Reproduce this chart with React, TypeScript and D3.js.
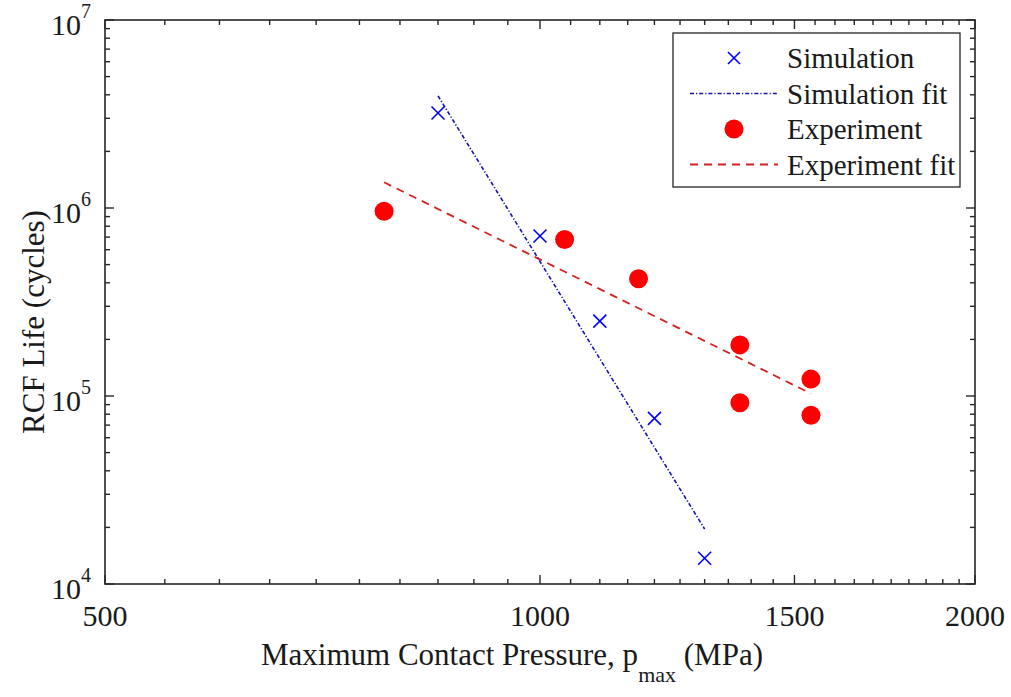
import React from "react";
import * as d3 from "d3";

// Maximum contact pressure (MPa) and rolling contact fatigue life (cycles)
const simPressure = [850, 1000, 1100, 1200, 1300];
const simLife = [3.2e6, 7.1e5, 2.5e5, 7.6e4, 1.37e4];

const expPressure = [780, 1040, 1170, 1375, 1375, 1540, 1540];
const expLife = [9.6e5, 6.8e5, 4.2e5, 1.87e5, 9.2e4, 1.23e5, 7.9e4];

// Power-law fit lines, given by their end points
const simFitPressure = [850, 1300];
const simFitLife = [3.95e6, 1.96e4];
const expFitPressure = [780, 1540];
const expFitLife = [1.37e6, 1.03e5];

const xMajorTicks = [500, 1000, 1500, 2000];
const yMajorExponents = [4, 5, 6, 7];

const legendLabels = ["Simulation", "Simulation fit", "Experiment", "Experiment fit"];

const W = 1011;
const H = 697;
const M = { left: 105, right: 975, top: 20, bottom: 584 };

const FONT = "'Liberation Serif', 'Times New Roman', serif";
const AXIS = "#262626";
const TEXT = "#1a1a1a";
const BLUE = "#0000ff";
const BLUE_LINE = "#1212b4";
const RED = "#ff0000";
const RED_LINE = "#d42020";

export default function App() {
  const x = d3.scaleLog().domain([500, 2000]).range([M.left, M.right]);
  const y = d3.scaleLog().domain([1e4, 1e7]).range([M.bottom, M.top]);

  const xMinor = d3.range(550, 2000, 50).filter((v) => !xMajorTicks.includes(v));
  const yMinor: number[] = [];
  for (let e = 4; e < 7; e++) for (let k = 2; k <= 9; k++) yMinor.push(k * Math.pow(10, e));
  const yMajor = yMajorExponents.map((e) => Math.pow(10, e));

  const line = d3
    .line<[number, number]>()
    .x((d) => x(d[0]))
    .y((d) => y(d[1]));

  const simFit = line(simFitPressure.map((p, i) => [p, simFitLife[i]] as [number, number]));
  const expFit = line(expFitPressure.map((p, i) => [p, expFitLife[i]] as [number, number]));

  const majorLen = 9;
  const minorLen = 5;

  const cross = (cx: number, cy: number, s: number, key: string | number) => (
    <g key={key} stroke={BLUE} strokeWidth={1.6}>
      <line x1={cx - s} y1={cy - s} x2={cx + s} y2={cy + s} />
      <line x1={cx - s} y1={cy + s} x2={cx + s} y2={cy - s} />
    </g>
  );

  // legend geometry
  const lg = { x0: 673, y0: 33, x1: 960, y1: 187 };
  const rowY = [58, 93.5, 129, 164.5];
  const lineX0 = 690;
  const lineX1 = 778;
  const markX = 734;
  const textX = 787;

  return (
    <div style={{ position: "fixed", left: 0, top: 0, width: W, height: H, background: "#fff" }}>
      <svg width={W} height={H} style={{ display: "block" }} fontFamily={FONT}>
        <rect x={0} y={0} width={W} height={H} fill="#fff" />

        {/* fit lines */}
        <path d={expFit || ""} fill="none" stroke={RED_LINE} strokeWidth={1.8} strokeDasharray="8,6" />
        <path d={simFit || ""} fill="none" stroke={BLUE_LINE} strokeWidth={1.6} strokeDasharray="4,2,1.2,2" />

        {/* experiment points */}
        {expPressure.map((p, i) => (
          <circle key={`e${i}`} cx={x(p)} cy={y(expLife[i])} r={9.5} fill={RED} />
        ))}

        {/* simulation points */}
        {simPressure.map((p, i) => cross(x(p), y(simLife[i]), 6.5, `s${i}`))}

        {/* axis box */}
        <rect
          x={M.left}
          y={M.top}
          width={M.right - M.left}
          height={M.bottom - M.top}
          fill="none"
          stroke={AXIS}
          strokeWidth={1.6}
        />

        {/* ticks on all four sides, pointing inward */}
        <g stroke={AXIS} strokeWidth={1.4}>
          {xMinor.map((v) => (
            <g key={`xm${v}`}>
              <line x1={x(v)} x2={x(v)} y1={M.bottom} y2={M.bottom - minorLen} />
              <line x1={x(v)} x2={x(v)} y1={M.top} y2={M.top + minorLen} />
            </g>
          ))}
          {xMajorTicks.map((v) => (
            <g key={`xM${v}`}>
              <line x1={x(v)} x2={x(v)} y1={M.bottom} y2={M.bottom - majorLen} />
              <line x1={x(v)} x2={x(v)} y1={M.top} y2={M.top + majorLen} />
            </g>
          ))}
          {yMinor.map((v) => (
            <g key={`ym${v}`}>
              <line x1={M.left} x2={M.left + minorLen} y1={y(v)} y2={y(v)} />
              <line x1={M.right} x2={M.right - minorLen} y1={y(v)} y2={y(v)} />
            </g>
          ))}
          {yMajor.map((v) => (
            <g key={`yM${v}`}>
              <line x1={M.left} x2={M.left + majorLen} y1={y(v)} y2={y(v)} />
              <line x1={M.right} x2={M.right - majorLen} y1={y(v)} y2={y(v)} />
            </g>
          ))}
        </g>

        {/* x tick labels */}
        {xMajorTicks.map((v) => (
          <text key={`xl${v}`} x={x(v)} y={M.bottom + 42} textAnchor="middle" fontSize={30} fill={TEXT}>
            {v}
          </text>
        ))}

        {/* y tick labels as powers of ten */}
        {yMajorExponents.map((e) => (
          <text key={`yl${e}`} x={91} y={y(Math.pow(10, e)) + 15} textAnchor="end" fontSize={30} fill={TEXT}>
            10
            <tspan fontSize={20} dy={-17}>
              {e}
            </tspan>
          </text>
        ))}

        {/* axis titles */}
        <text x={512} y={665} textAnchor="middle" fontSize={31} fill={TEXT}>
          Maximum Contact Pressure, p
          <tspan fontSize={22} dy={17}>
            max
          </tspan>
          <tspan dy={-17}> (MPa)</tspan>
        </text>
        <text
          transform={`translate(44, ${(M.top + M.bottom) / 2 + 20}) rotate(-90)`}
          textAnchor="middle"
          fontSize={31}
          fill={TEXT}
        >
          RCF Life (cycles)
        </text>

        {/* legend */}
        <rect
          x={lg.x0}
          y={lg.y0}
          width={lg.x1 - lg.x0}
          height={lg.y1 - lg.y0}
          fill="#fff"
          stroke={AXIS}
          strokeWidth={1.3}
        />
        {cross(markX, rowY[0], 6, "lg0")}
        <line x1={lineX0} x2={lineX1} y1={rowY[1]} y2={rowY[1]} stroke={BLUE_LINE} strokeWidth={1.6} strokeDasharray="4,2,1.2,2" />
        <circle cx={markX} cy={rowY[2]} r={9.5} fill={RED} />
        <line x1={lineX0} x2={lineX1} y1={rowY[3]} y2={rowY[3]} stroke={RED_LINE} strokeWidth={1.8} strokeDasharray="8,6" />
        {legendLabels.map((t, i) => (
          <text key={t} x={textX} y={rowY[i] + 10} fontSize={29} fill={TEXT}>
            {t}
          </text>
        ))}
      </svg>
    </div>
  );
}
